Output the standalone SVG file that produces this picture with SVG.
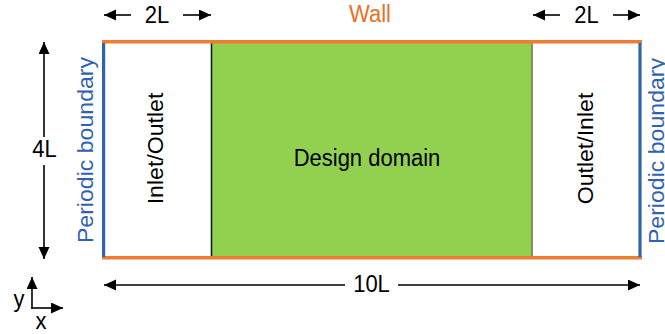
<svg xmlns="http://www.w3.org/2000/svg" width="665" height="334" viewBox="0 0 665 334">
  <defs>
    <marker id="arrow" markerUnits="userSpaceOnUse" markerWidth="13" markerHeight="12" refX="12" refY="5.5" orient="auto">
      <path d="M0,0 L12,5.5 L0,11 Z" fill="#000"/>
    </marker>
    <style>
      text { font-family: "Liberation Sans", Arial, sans-serif; font-size: 22px; fill: #000; text-anchor: middle; }
      .blue { fill: #2F62B0; }
      .orange { fill: #E8711E; }
      .dim { stroke: #000; stroke-width: 1.6; fill: none; marker-end: url(#arrow); }
      .wall { stroke: #ED7D31; stroke-width: 3.5; }
      .periodic { stroke: #2F62B0; stroke-width: 3.2; }
      .divider { stroke: #1a1a1a; stroke-width: 1.6; }
    </style>
  </defs>

  <rect width="665" height="334" fill="#fff"/>

  <!-- Inlet/Outlet buffer zone (left) -->
  <g id="inlet-zone">
    <rect x="104" y="42" width="107.5" height="216" fill="#fff"/>
    <text transform="translate(163,148.5) rotate(-90) scale(1.05,1)">Inlet/Outlet</text>
  </g>

  <!-- Design domain -->
  <g id="design-domain">
    <rect x="211.5" y="42" width="321" height="216" fill="#92D050"/>
    <line class="divider" x1="211.5" y1="42" x2="211.5" y2="258"/>
    <line class="divider" x1="532.5" y1="42" x2="532.5" y2="258"/>
    <text transform="translate(367,166) scale(1,1.05)">Design domain</text>
  </g>

  <!-- Outlet/Inlet buffer zone (right) -->
  <g id="outlet-zone">
    <rect x="532.5" y="42" width="107.5" height="216" fill="#fff"/>
    <text transform="translate(593,148.5) rotate(-90) scale(1.05,1)">Outlet/Inlet</text>
  </g>

  <!-- Walls (top and bottom) -->
  <g id="walls">
    <line class="wall" x1="102" y1="41.8" x2="642" y2="41.8"/>
    <line class="wall" x1="102" y1="257.8" x2="642" y2="257.8"/>
    <text class="orange" transform="translate(370,22) scale(1,1.05)">Wall</text>
  </g>

  <!-- Periodic boundaries (left and right) -->
  <g id="periodic-left">
    <line class="periodic" x1="103.6" y1="43" x2="103.6" y2="257"/>
    <text class="blue" transform="translate(93,150) rotate(-90) scale(1.05,1)">Periodic boundary</text>
  </g>
  <g id="periodic-right">
    <line class="periodic" x1="640" y1="43" x2="640" y2="257"/>
    <text class="blue" transform="translate(664,151) rotate(-90) scale(1.05,1)">Periodic boundary</text>
  </g>

  <!-- Dimension arrows -->
  <g id="connectors">
    <line class="dim" x1="131" y1="15" x2="104" y2="15"/>
    <line class="dim" x1="183" y1="15" x2="211" y2="15"/>
    <line class="dim" x1="560" y1="15" x2="533" y2="15"/>
    <line class="dim" x1="613" y1="15" x2="640" y2="15"/>
    <line class="dim" x1="345" y1="285" x2="104" y2="285"/>
    <line class="dim" x1="398" y1="285" x2="640" y2="285"/>
    <line class="dim" x1="44" y1="137" x2="44" y2="42"/>
    <line class="dim" x1="44" y1="165" x2="44" y2="259"/>
    <!-- coordinate axes -->
    <line class="dim" x1="32" y1="308.8" x2="32" y2="277"/>
    <line class="dim" x1="31.2" y1="308" x2="63" y2="308"/>
  </g>

  <!-- Dimension labels -->
  <g id="labels">
    <text transform="translate(157,23) scale(1,1.05)">2L</text>
    <text transform="translate(586.5,23) scale(1,1.05)">2L</text>
    <text transform="translate(371.5,292) scale(1,1.05)">10L</text>
    <text transform="translate(44.5,157) scale(1,1.05)">4L</text>
    <text transform="translate(19,307) scale(1,1.05)">y</text>
    <text transform="translate(41,329) scale(1,1.05)">x</text>
  </g>
</svg>
